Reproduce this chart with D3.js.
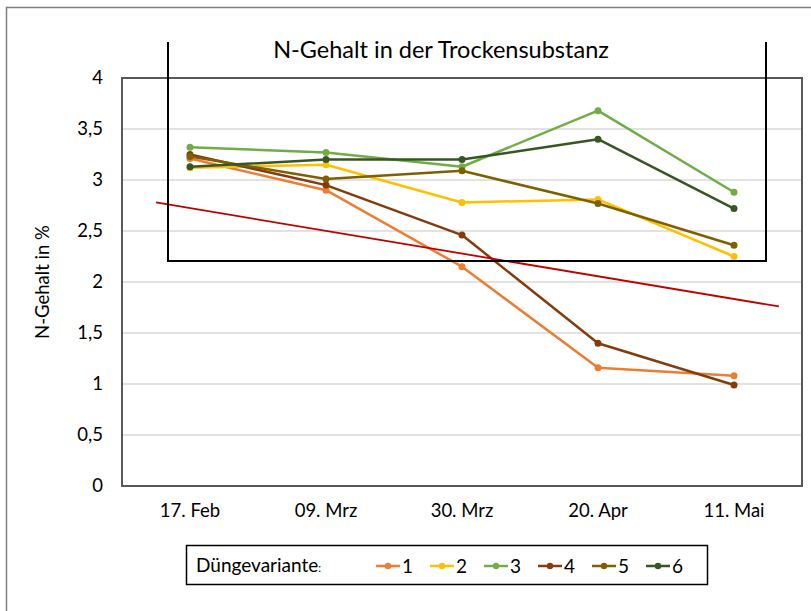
<!DOCTYPE html>
<html>
<head>
<meta charset="utf-8">
<script src="https://cdn.jsdelivr.net/npm/d3@7.9.0/dist/d3.min.js"></script>
<style>
  body { margin: 0; background: #fff; }
  svg { display: block; font-family: Lato, "Open Sans", sans-serif; }
</style>
</head>
<body>
<svg id="chart" width="811" height="611"></svg>
<script>
// chart data
const dates = ['17. Feb', '09. Mrz', '30. Mrz', '20. Apr', '11. Mai'];
const seriesNames = ['1', '2', '3', '4', '5', '6'];
const seriesColors = ['#ED7D31', '#FFC000', '#70AD47', '#843C0C', '#7F6000', '#375623'];
const v1 = [3.21, 2.90, 2.15, 1.16, 1.08];
const v2 = [3.12, 3.15, 2.78, 2.81, 2.25];
const v3 = [3.32, 3.27, 3.13, 3.68, 2.88];
const v4 = [3.25, 2.95, 2.46, 1.40, 0.99];
const v5 = [3.23, 3.01, 3.09, 2.77, 2.36];
const v6 = [3.13, 3.20, 3.20, 3.40, 2.72];
const yTicks = [0, 0.5, 1, 1.5, 2, 2.5, 3, 3.5, 4];
// red trend line, given as (category position, value), extended past first/last date
const trendPos = [-0.25, 4.33];
const trendVal = [2.78, 1.76];

const allSeries = [v1, v2, v3, v4, v5, v6];

const svg = d3.select('#chart');
const fmt = d => String(d).replace('.', ',');

// outer frame (runs off the right/bottom of the picture)
svg.append('rect')
  .attr('x', 6.5).attr('y', 7.5).attr('width', 830).attr('height', 640)
  .attr('fill', 'none').attr('stroke', '#7f7f7f').attr('stroke-width', 1.5);

const plot = { left: 122, top: 78, right: 802, bottom: 486 };

const x = d3.scaleBand().domain(dates).range([plot.left, plot.right]);
const xc = d => x(d) + x.bandwidth() / 2;
const xPos = d3.scaleLinear().domain([0, 1]).range([xc(dates[0]), xc(dates[1])]);
const y = d3.scaleLinear().domain([0, 4]).range([plot.bottom, plot.top]);

// gridlines
svg.append('g')
  .selectAll('line')
  .data(yTicks)
  .join('line')
  .attr('x1', plot.left).attr('x2', plot.right)
  .attr('y1', d => y(d)).attr('y2', d => y(d))
  .attr('stroke', '#d9d9d9').attr('stroke-width', 1.5);

// plot area border
svg.append('rect')
  .attr('x', plot.left).attr('y', plot.top)
  .attr('width', plot.right - plot.left).attr('height', plot.bottom - plot.top)
  .attr('fill', 'none').attr('stroke', '#595959').attr('stroke-width', 2);

// y axis labels
const yAxis = d3.axisLeft(y).tickValues(yTicks).tickFormat(fmt).tickSize(0).tickPadding(0);
const gy = svg.append('g').attr('transform', `translate(${plot.left - 19},0)`).call(yAxis);
gy.select('.domain').remove();
gy.selectAll('text').attr('font-size', 18.5).attr('fill', '#000').attr('font-family', 'Lato');

// x axis labels
const xAxis = d3.axisBottom(x).tickSize(0).tickPadding(0);
const gx = svg.append('g').attr('transform', `translate(0,${plot.bottom + 18})`).call(xAxis);
gx.select('.domain').remove();
gx.selectAll('text').attr('font-size', 18.5).attr('fill', '#000').attr('font-family', 'Lato');

// y axis title
svg.append('text')
  .attr('transform', `translate(49,${(plot.top + plot.bottom) / 2}) rotate(-90)`)
  .attr('text-anchor', 'middle')
  .attr('font-size', 18.5)
  .text('N-Gehalt in %');

// series lines
const line = d3.line().x((d, i) => xc(dates[i])).y(d => y(d));
allSeries.forEach((vals, si) => {
  const g = svg.append('g');
  g.append('path')
    .attr('d', line(vals))
    .attr('fill', 'none')
    .attr('stroke', seriesColors[si])
    .attr('stroke-width', 2.5)
    .attr('stroke-linejoin', 'round');
  g.selectAll('circle')
    .data(vals)
    .join('circle')
    .attr('cx', (d, i) => xc(dates[i]))
    .attr('cy', d => y(d))
    .attr('r', 3.5)
    .attr('fill', seriesColors[si]);
});

// trend line
svg.append('line')
  .attr('x1', xPos(trendPos[0])).attr('y1', y(trendVal[0]))
  .attr('x2', xPos(trendPos[1])).attr('y2', y(trendVal[1]))
  .attr('stroke', '#C00000').attr('stroke-width', 1.8);

// title box (open at the top)
svg.append('path')
  .attr('d', 'M168,42 V261 H766 V42')
  .attr('fill', 'none').attr('stroke', '#000').attr('stroke-width', 2);

svg.append('text')
  .attr('x', 441).attr('y', 58)
  .attr('text-anchor', 'middle')
  .attr('font-size', 23.5)
  .text('N-Gehalt in der Trockensubstanz');

// legend
const legend = svg.append('g');
legend.append('rect')
  .attr('x', 186.5).attr('y', 545.5).attr('width', 521).attr('height', 39)
  .attr('fill', '#fff').attr('stroke', '#000').attr('stroke-width', 1.5);
const lt = legend.append('text').attr('x', 196).attr('y', 572).attr('font-size', 19);
lt.append('tspan').text('Düngevariante');
lt.append('tspan').attr('font-size', 11).text(':');

seriesNames.forEach((name, i) => {
  const lx = 376 + i * 54;
  const item = legend.append('g').attr('transform', `translate(${lx},566)`);
  item.append('line').attr('x1', 0).attr('x2', 24).attr('stroke', seriesColors[i]).attr('stroke-width', 2.5);
  item.append('circle').attr('cx', 12).attr('r', 3.2).attr('fill', seriesColors[i]);
  item.append('text').attr('x', 26).attr('y', 6.5).attr('font-size', 19).text(name);
});
</script>
</body>
</html>
